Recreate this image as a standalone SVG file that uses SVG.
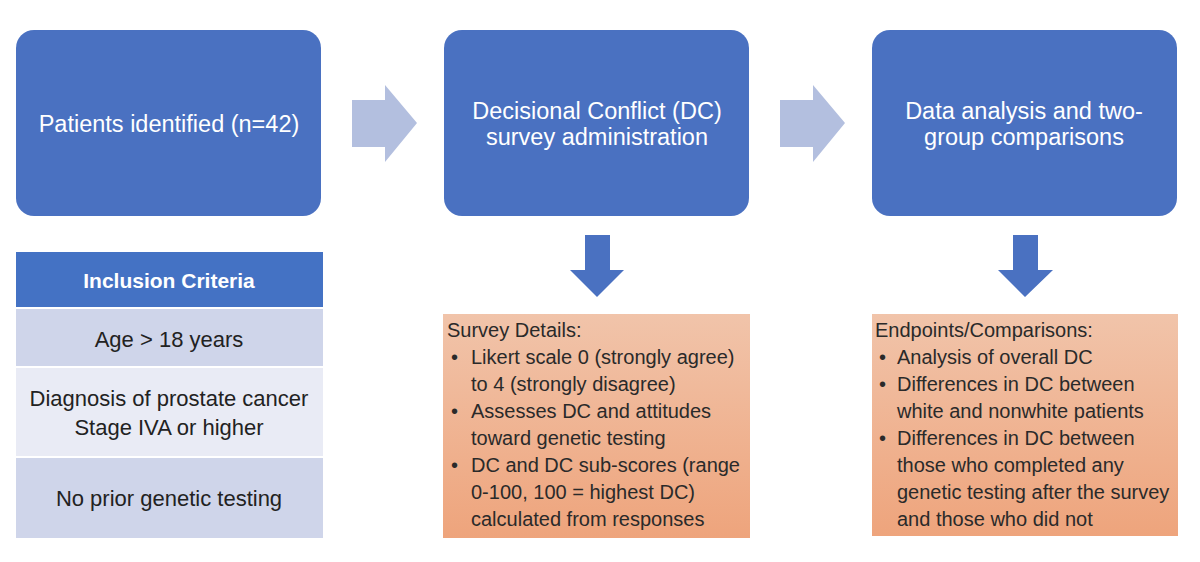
<svg xmlns="http://www.w3.org/2000/svg" width="1200" height="562" viewBox="0 0 1200 562">
<defs>
<linearGradient id="og" x1="0" y1="0" x2="0" y2="1">
<stop offset="0" stop-color="#F1C4AA"/>
<stop offset="1" stop-color="#EEA47C"/>
</linearGradient>
<style>
.main{fill:#4A71C1}
.t{font-family:"Liberation Sans",Arial,sans-serif}
.wt{fill:#fff;font-size:23.5px}
.tb{fill:#222;font-size:22px}
.ob{fill:url(#og)}
.ot{fill:#2a2a2a;font-size:20px}
.la{fill:#B3BFDF}
.da{fill:#4A71C1}
</style>
</defs>
<rect width="1200" height="562" fill="#fff"/>
<g id="n1"><rect class="main" x="16" y="30" width="305" height="186" rx="18"/>
<text class="t wt" x="169" y="132" text-anchor="middle" font-size="24.5">Patients identified (n=42)</text></g>
<g id="n2"><rect class="main" x="444" y="30" width="305" height="186" rx="18"/>
<text class="t wt" x="597" y="119" text-anchor="middle">Decisional Conflict (DC)</text>
<text class="t wt" x="597" y="145" text-anchor="middle">survey administration</text></g>
<g id="n3"><rect class="main" x="872" y="30" width="305" height="186" rx="18"/>
<text class="t wt" x="1024" y="119" text-anchor="middle">Data analysis and two-</text>
<text class="t wt" x="1024" y="145" text-anchor="middle">group comparisons</text></g>
<g id="table">
<rect x="16" y="252" width="307" height="56" fill="#4472C4"/>
<rect x="16" y="308" width="307" height="59" fill="#CFD5EA"/>
<rect x="16" y="367" width="307" height="90" fill="#E9EBF5"/>
<rect x="16" y="457" width="307" height="81" fill="#CFD5EA"/>
<line x1="16" y1="308" x2="323" y2="308" stroke="#fff" stroke-width="2"/>
<line x1="16" y1="367" x2="323" y2="367" stroke="#fff" stroke-width="2"/>
<line x1="16" y1="457" x2="323" y2="457" stroke="#fff" stroke-width="2"/>
<text class="t" x="169" y="288" text-anchor="middle" fill="#fff" font-size="21" font-weight="bold">Inclusion Criteria</text>
<text class="t tb" x="169" y="347" text-anchor="middle">Age &gt; 18 years</text>
<text class="t tb" x="169" y="406" text-anchor="middle">Diagnosis of prostate cancer</text>
<text class="t tb" x="169" y="435" text-anchor="middle">Stage IVA or higher</text>
<text class="t tb" x="169" y="506" text-anchor="middle">No prior genetic testing</text>
</g>
<g id="n4"><rect class="ob" x="443" y="314" width="307" height="224"/>
<text class="t ot" x="447" y="337">Survey Details:</text>
<g class="t ot">
<text x="451" y="364">•</text><text x="471" y="364">Likert scale 0 (strongly agree)</text>
<text x="471" y="391">to 4 (strongly disagree)</text>
<text x="451" y="418">•</text><text x="471" y="418">Assesses DC and attitudes</text>
<text x="471" y="445">toward genetic testing</text>
<text x="451" y="472">•</text><text x="471" y="472">DC and DC sub-scores (range</text>
<text x="471" y="499">0-100, 100 = highest DC)</text>
<text x="471" y="526">calculated from responses</text>
</g></g>
<g id="n5"><rect class="ob" x="872" y="314" width="306" height="222"/>
<text class="t ot" x="875" y="337">Endpoints/Comparisons:</text>
<g class="t ot">
<text x="879" y="364">•</text><text x="897" y="364">Analysis of overall DC</text>
<text x="879" y="391">•</text><text x="897" y="391">Differences in DC between</text>
<text x="897" y="418">white and nonwhite patients</text>
<text x="879" y="445">•</text><text x="897" y="445">Differences in DC between</text>
<text x="897" y="472">those who completed any</text>
<text x="897" y="499">genetic testing after the survey</text>
<text x="897" y="526">and those who did not</text>
</g></g>
<g id="connectors">
<polygon class="la" points="352,100 385,100 385,85 417,123 385,162 385,147 352,147"/>
<polygon class="la" points="780,100 813,100 813,85 845,123 813,162 813,147 780,147"/>
<polygon class="da" points="585,235 610,235 610,270 624,270 597,297 570,270 585,270"/>
<polygon class="da" points="1013,235 1038,235 1038,270 1053,270 1025,297 998,270 1013,270"/>
</g>
</svg>
